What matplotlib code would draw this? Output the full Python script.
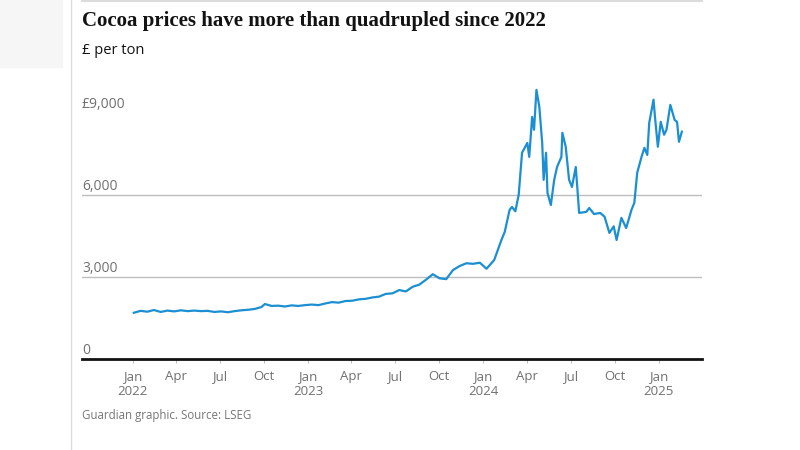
import matplotlib
matplotlib.use("Agg")
from matplotlib import pyplot as plt
import pandas as pd

# Values (approximate, GBP per ton)
dates = [
    "2022-01-03", "2022-01-17", "2022-01-31", "2022-02-14", "2022-02-28",
    "2022-03-14", "2022-03-28", "2022-04-11", "2022-04-25", "2022-05-09",
    "2022-05-23", "2022-06-06", "2022-06-20", "2022-07-04", "2022-07-18",
    "2022-08-01", "2022-08-15", "2022-08-29", "2022-09-12", "2022-09-26",
    "2022-10-03", "2022-10-17", "2022-10-31", "2022-11-14", "2022-11-28",
    "2022-12-12", "2022-12-26",
    "2023-01-09", "2023-01-23", "2023-02-06", "2023-02-20", "2023-03-06",
    "2023-03-20", "2023-04-03", "2023-04-17", "2023-05-01", "2023-05-15",
    "2023-05-29", "2023-06-12", "2023-06-26", "2023-07-10", "2023-07-24",
    "2023-08-07", "2023-08-21", "2023-09-04", "2023-09-18", "2023-10-02",
    "2023-10-16", "2023-10-30", "2023-11-13", "2023-11-27", "2023-12-11",
    "2023-12-25",
    "2024-01-08", "2024-01-24", "2024-02-08", "2024-02-15", "2024-02-25",
    "2024-03-01", "2024-03-08", "2024-03-15", "2024-03-22", "2024-04-02",
    "2024-04-06", "2024-04-12", "2024-04-16", "2024-04-21", "2024-04-27",
    "2024-05-03", "2024-05-06", "2024-05-11", "2024-05-14", "2024-05-21",
    "2024-05-28", "2024-06-03", "2024-06-12", "2024-06-14", "2024-06-21",
    "2024-06-28", "2024-07-04", "2024-07-12", "2024-07-19", "2024-08-03",
    "2024-08-09", "2024-08-19", "2024-09-01", "2024-09-10", "2024-09-20",
    "2024-09-29", "2024-10-05", "2024-10-15", "2024-10-25", "2024-11-05",
    "2024-11-11", "2024-11-17", "2024-11-26", "2024-12-02", "2024-12-08",
    "2024-12-12", "2024-12-21", "2024-12-24", "2024-12-30",
    "2025-01-05", "2025-01-12", "2025-01-17", "2025-01-25", "2025-02-03",
    "2025-02-08", "2025-02-12", "2025-02-18",
]
prices = [
    1690, 1760, 1730, 1790, 1720,
    1770, 1740, 1780, 1750, 1770,
    1750, 1760, 1720, 1740, 1710,
    1750, 1780, 1800, 1830, 1900,
    2010, 1940, 1950, 1920, 1960,
    1940, 1970,
    1990, 1970, 2030, 2080, 2060,
    2120, 2130, 2180, 2200, 2250,
    2280, 2380, 2400, 2520, 2470,
    2640, 2720, 2900, 3100, 2950,
    2920, 3250, 3400, 3500, 3480,
    3520,
    3300, 3620, 4350, 4650, 5450,
    5560, 5400, 6000, 7540, 7900,
    7390, 8850, 8380, 9840, 9220,
    7900, 6550, 7540, 6070, 5630,
    6550, 7020, 7390, 8270, 7760,
    6550, 6290, 7020, 5340, 5380,
    5520, 5300, 5340, 5200, 4610,
    4850, 4350, 5160, 4790, 5450,
    5710, 6810, 7390, 7720, 7460,
    8630, 9480, 8850, 7760,
    8670, 8200, 8380, 9290, 8740,
    8670, 7940, 8310,
]

y_ticks = [0, 3000, 6000, 9000]
y_tick_labels = ["0", "3,000", "6,000", "£9,000"]
x_ticks = pd.date_range("2022-01-01", "2025-01-01", freq="QS")
x_tick_labels = []
for d in x_ticks:
    if d.month == 1:
        x_tick_labels.append(d.strftime("%b") + "\n" + str(d.year))
    else:
        x_tick_labels.append(d.strftime("%b"))

W, H = 800, 450
fig = plt.figure(figsize=(8, 4.5), dpi=100)
plt.rcParams["font.family"] = ["Open Sans", "DejaVu Sans"]

# page decorations
fig.patches.append(plt.Rectangle((0, 1 - 67 / H), 62 / W, 67 / H, transform=fig.transFigure,
                                 color="#f6f6f6", zorder=0))
fig.lines.append(plt.Line2D([71 / W, 71 / W], [0, 1], transform=fig.transFigure,
                            color="#dcdcdc", lw=1))
fig.lines.append(plt.Line2D([82 / W, 702 / W], [1 - 1 / H, 1 - 1 / H], transform=fig.transFigure,
                            color="#dcdcdc", lw=1.5))

left, right = 82 / W, 702 / W
bottom = 1 - 359 / H
top = 1 - 80 / H
ax = fig.add_axes([left, bottom, right - left, top - bottom])

x = pd.to_datetime(dates)
ax.plot(x, prices, color="#1b8fd2", lw=1.6, zorder=3)

ax.set_ylim(0, 10200)
ax.set_xlim(pd.Timestamp("2021-09-17"), pd.Timestamp("2025-04-01"))

for spine in ["top", "right", "left"]:
    ax.spines[spine].set_visible(False)
ax.spines["bottom"].set_color("#121212")
ax.spines["bottom"].set_linewidth(2)
ax.spines["bottom"].set_zorder(4)

for v in y_ticks[1:3]:
    ax.axhline(v, color="#bdbdbd", lw=1, zorder=1)

ax.set_yticks([])
for v, lab in zip(y_ticks, y_tick_labels):
    ax.annotate(lab, xy=(0, v), xycoords=("axes fraction", "data"),
                xytext=(0, 0.5), textcoords="offset points",
                ha="left", va="bottom", fontsize=10, color="#707070")

ax.set_xticks(x_ticks)
ax.set_xticklabels(x_tick_labels, fontsize=9.5, color="#707070", linespacing=1.15)
ax.tick_params(axis="x", length=3, width=0.8, color="#bdbdbd", pad=5)

fig.text(82 / W, 1 - 21 / H, "Cocoa prices have more than quadrupled since 2022",
         fontsize=15, family=["Liberation Serif"], weight="bold", color="#121212",
         va="center", ha="left")
fig.text(82 / W, 1 - 50 / H, "£ per ton", fontsize=10.5, color="#121212",
         va="center", ha="left")
fig.text(82 / W, 1 - 416 / H, "Guardian graphic. Source: LSEG", fontsize=8.3,
         color="#767676", va="center", ha="left")

fig.savefig("out.png", dpi=100)
